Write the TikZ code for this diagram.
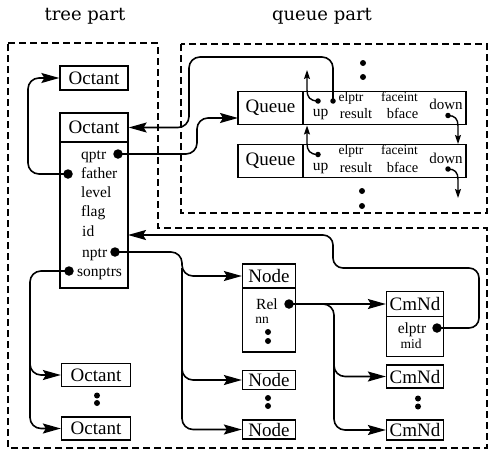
\documentclass[tikz,border=0pt]{standalone}
\usepackage{fontspec}
\setmainfont{Liberation Serif}
\newfontfamily\partfont{DejaVu Serif}
\usetikzlibrary{arrows.meta}
\begin{document}
\begin{tikzpicture}[x=1pt,y=-1pt,
  box/.style={draw, line width=1.3pt, inner sep=0pt, font=\fontsize{19}{19}\selectfont},
  fld/.style={inner sep=0pt, anchor=base, font=\fontsize{15.5}{15.5}\selectfont},
  fldw/.style={inner sep=0pt, anchor=base west, font=\fontsize{15.5}{15.5}\selectfont},
  sfld/.style={inner sep=0pt, anchor=base, font=\fontsize{13.5}{13.5}\selectfont},
  lbl/.style={inner sep=0pt, font=\partfont\fontsize{18}{18}\selectfont},
  dashbox/.style={line width=1.1pt, dash pattern=on 7pt off 4pt},
  conn/.style={line width=1.6pt, rounded corners=11pt},
  arr/.style={-{Stealth[length=18pt,width=10pt,inset=3pt]}},
  sarr/.style={-{Stealth[length=9pt,width=6pt,inset=1.5pt]}},
  bigdot/.style={circle, fill, inner sep=0pt, minimum size=9.5pt},
  vdot/.style={circle, fill, inner sep=0pt, minimum size=6pt},
  sdot/.style={circle, fill, inner sep=0pt, minimum size=5.5pt},
]
\useasboundingbox (0,0) rectangle (489,455);

% labels
\node[lbl] (treelbl) at (85,16) {tree part};
\node[lbl] (queuelbl) at (322,16) {queue part};

% dashed frames
\draw[dashbox] (8,43) -- (158,43) -- (158,228) -- (487,228) -- (487,448) -- (8,448) -- cycle;
\draw[dashbox] (181,44) rectangle (487,213);

% ---------- tree part ----------
\node[box, minimum width=68pt, minimum height=24pt] (octTop) at (94,78) {Octant};
\node[box, minimum width=68pt, minimum height=29pt] (octHead) at (94,127.5) {Octant};
\node[box, minimum width=68pt, minimum height=146pt] (octBody) at (94,215) {};
\node[fldw] (fq) at (81,159) {qptr};
\node[fldw] (ff) at (81,178) {father};
\node[fldw] (fl) at (81,197) {level};
\node[fldw] (fg) at (81,216) {flag};
\node[fldw] (fi) at (82,236) {id};
\node[fldw] (fn) at (82,257) {nptr};
\node[fldw] (fs) at (77,276) {sonptrs};
\node[bigdot] (qdot) at (118,154) {};
\node[bigdot] (fdot) at (68,174) {};
\node[bigdot] (ndot) at (115,252) {};
\node[bigdot] (sdot) at (69,271) {};

\node[box, minimum width=69pt, minimum height=23pt] (octL1) at (96,375) {Octant};
\node[box, minimum width=69pt, minimum height=23pt] (octL2) at (96,428.5) {Octant};
\node[vdot] (od1) at (97,395.5) {};
\node[vdot] (od2) at (97,403) {};

% ---------- node part ----------
\node[box, minimum width=53pt, minimum height=24pt] (nodeHead) at (269,276) {Node};
\node[box, minimum width=53pt, minimum height=64pt] (nodeBody) at (269,320) {};
\node[fld] (rel) at (267,309) {Rel};
\node[bigdot] (rdot) at (289,304) {};
\node[sfld] (nn) at (262,323) {nn};
\node[vdot] (nd1) at (268,332) {};
\node[vdot] (nd2) at (268,341) {};

\node[box, minimum width=53pt, minimum height=19pt] (node2) at (269,380) {Node};
\node[box, minimum width=53pt, minimum height=19pt] (node3) at (269,429.5) {Node};
\node[vdot] (nd3) at (268,398) {};
\node[vdot] (nd4) at (268,406) {};

% ---------- CmNd part ----------
\node[box, minimum width=57pt, minimum height=25pt] (cmHead) at (415,304) {CmNd};
\node[box, minimum width=57pt, minimum height=40pt] (cmBody) at (415,336.5) {};
\node[fld] (celp) at (412,333) {elptr};
\node[bigdot] (cdot) at (437,328) {};
\node[sfld] (cmid) at (411,348) {mid};
\node[box, minimum width=57pt, minimum height=23pt] (cm2) at (415,376.5) {CmNd};
\node[box, minimum width=57pt, minimum height=20pt] (cm3) at (415,430) {CmNd};
\node[vdot] (cd1) at (418,398.5) {};
\node[vdot] (cd2) at (418,406.5) {};

% ---------- queue part ----------
\foreach \i/\T in {1/90.5, 2/144}{
  \node[box, minimum width=65pt, minimum height=33pt, anchor=north] (q\i n) at (270.5,\T) {Queue};
  \node[box, minimum width=163pt, minimum height=33pt, anchor=north] (q\i f) at (384.5,\T) {};
  \node[inner sep=0pt, anchor=base, font=\fontsize{15.5}{15.5}\selectfont] (q\i up) at (320.5,\T+26) {up};
  \node[sfld] (q\i el) at (351,\T+10.5) {elptr};
  \node[inner sep=0pt, anchor=base, font=\fontsize{14.5}{14.5}\selectfont] (q\i res) at (356,\T+28) {result};
  \node[sfld] (q\i fi) at (399.5,\T+10.5) {faceint};
  \node[inner sep=0pt, anchor=base, font=\fontsize{14.5}{14.5}\selectfont] (q\i bf) at (402.5,\T+28) {bface};
  \node[inner sep=0pt, anchor=base, font=\fontsize{15}{15}\selectfont] (q\i dn) at (446,\T+19) {down};
  \node[sdot] (q\i ud) at (318,\T+10.5) {};
  \node[sdot] (q\i dd) at (448,\T+25) {};
}
\node[sdot] (q1ed) at (333,101) {};
\node[vdot] (qd1) at (363,63) {};
\node[vdot] (qd2) at (363,77) {};
\node[vdot] (qd3) at (362,191) {};
\node[vdot] (qd4) at (362,206) {};

\coordinate (q1upTip) at (307,70);
\coordinate (q2upTip) at (307,125.5);
\coordinate (q1dnTip) at (458,144);
\coordinate (q2dnTip) at (458,198);

\draw[line width=1.4pt, sarr] (q1ud.center) .. controls (310,101) and (307,97) .. (307,90) -- (q1upTip);
\draw[line width=1.4pt, sarr] (q2ud.center) .. controls (310,154.5) and (307,150.5) .. (307,143.5) -- (q2upTip);
\draw[line width=1.4pt, sarr] (q1dd.center) .. controls (455,115.5) and (458,119) .. (458,126) -- (q1dnTip);
\draw[line width=1.4pt, sarr] (q2dd.center) .. controls (455,169) and (458,172.5) .. (458,179.5) -- (q2dnTip);

% ---------- connectors ----------
\coordinate (elTurn) at (189,57);
\draw[conn, arr] (q1ed.center) |- (elTurn) |- (octHead.east);
\coordinate (qTurn) at (197,154);
\coordinate (qIn) at (238,118);
\draw[conn, arr] (qdot.center) -- (qTurn) |- (qIn);

\coordinate (fCol) at (28,78);
\draw[conn, arr] (fdot.center) -| (fCol) -- (octTop.west);
\coordinate (sCol) at (30,375);
\draw[conn, arr] (sdot.center) -| (sCol) -- (octL1.west);
\coordinate (sBr) at (30,350);
\draw[conn, arr] (sBr) |- (octL2.west);

\coordinate (nCol) at (182,276);
\draw[conn, arr] (ndot.center) -| (nCol) -- (nodeHead.west);
\coordinate (nBr1) at (182,268);
\coordinate (nBr2) at (182,360);
\draw[conn, arr] (nBr1) |- (node2.west);
\draw[conn, arr] (nBr2) |- (node3.west);

\draw[conn, arr] (rdot.center) -- (cmHead.west);
\coordinate (rCol) at (334,376.5);
\draw[conn, arr] (rdot.center) -| (rCol) -- (cm2.west);
\coordinate (rBr) at (334,360);
\draw[conn, arr] (rBr) |- (cm3.west);

\coordinate (cR) at (479,268);
\coordinate (cL) at (333,235);
\coordinate (bodyIn) at (128,235);
\draw[conn, arr, rounded corners=10pt] (cdot.center) -| (cR) -| (cL) -- (bodyIn);
\end{tikzpicture}
\end{document}
